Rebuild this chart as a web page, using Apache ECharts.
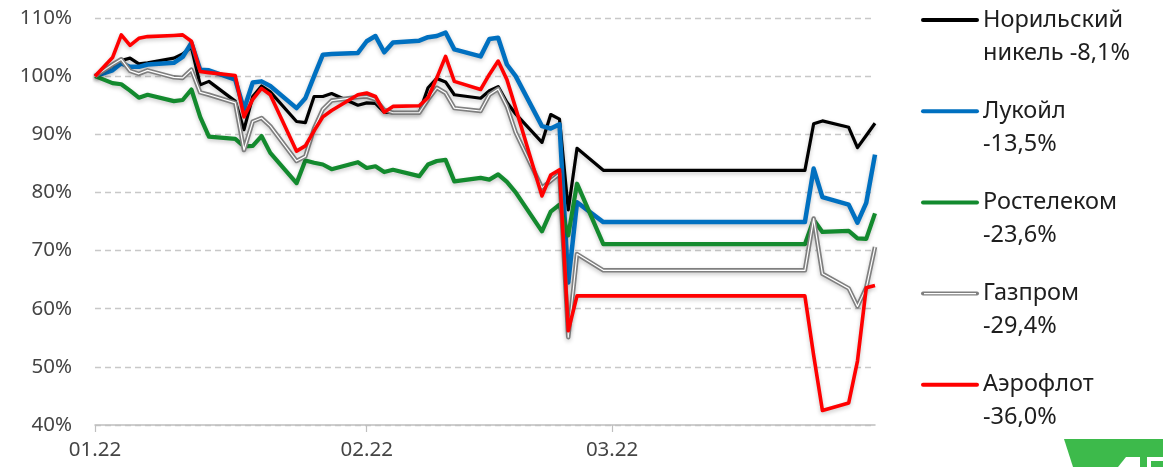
<!DOCTYPE html>
<html>
<head>
<meta charset="utf-8">
<script src="https://cdn.jsdelivr.net/npm/echarts@6/dist/echarts.min.js"></script>
<style>
    html, body { margin: 0; padding: 0; background: #fff; }
    #chart { width: 1163px; height: 467px; }
</style>
</head>
<body>
<div id="chart"></div>
<script>
// торговые дни (01.01 — база 100%)
const dates = ['2022-01-01', '2022-01-03', '2022-01-04', '2022-01-05', '2022-01-06', '2022-01-07',
    '2022-01-10', '2022-01-11', '2022-01-12', '2022-01-13', '2022-01-14', '2022-01-17', '2022-01-18',
    '2022-01-19', '2022-01-20', '2022-01-21', '2022-01-24', '2022-01-25', '2022-01-26', '2022-01-27',
    '2022-01-28', '2022-01-31', '2022-02-01', '2022-02-02', '2022-02-03', '2022-02-04', '2022-02-07',
    '2022-02-08', '2022-02-09', '2022-02-10', '2022-02-11', '2022-02-14', '2022-02-15', '2022-02-16',
    '2022-02-17', '2022-02-18', '2022-02-21', '2022-02-22', '2022-02-23', '2022-02-24', '2022-02-25',
    '2022-02-28', '2022-03-23', '2022-03-24', '2022-03-25', '2022-03-28', '2022-03-29', '2022-03-30',
    '2022-03-31'];

const nornickel = [100, 101.8, 102.7, 103.1, 102.1, 102.3, 103.1, 103.8, 105.0, 98.5, 99.1, 95.7, 90.8,
    96.5, 98.3, 97.3, 92.2, 92.0, 96.5, 96.5, 97.0, 95.0,
    95.4, 95.3, 93.8, 93.7, 93.7, 98.0, 99.6, 99.0, 96.8, 96.2, 97.5, 98.2, 95.5, 93.5, 88.6, 93.4, 92.6,
    77.0, 87.6, 83.8,
    83.8, 91.8, 92.3, 91.2, 87.7, 89.8, 91.9];

const lukoil = [100, 101.0, 102.2, 101.6, 101.6, 102.0, 102.3, 103.3, 105.7, 101.1, 101.0, 99.4, 94.3,
    98.9, 99.1, 98.3, 94.5, 96.2, 100.0, 103.7, 103.8, 104.0,
    106.0, 106.9, 104.1, 105.8, 106.1, 106.7, 106.9, 107.5, 104.6, 103.4, 106.4, 106.6, 102.0, 100.0,
    91.4, 91.0, 91.7, 64.5, 78.3, 74.9,
    74.9, 84.1, 79.2, 77.9, 74.8, 78.2, 86.5];

const rostelecom = [100, 98.8, 98.6, 97.5, 96.3, 96.8, 95.7, 95.9, 97.7, 93.0, 89.6, 89.2, 87.9,
    88.0, 89.7, 86.8, 81.6, 85.5, 85.1, 84.8, 84.0, 85.2,
    84.2, 84.5, 83.5, 83.9, 82.8, 84.8, 85.4, 85.6, 81.9, 82.5, 82.2, 83.1, 81.8, 80.0, 73.3, 76.7, 77.9,
    72.6, 81.5, 71.1,
    71.1, 75.3, 73.2, 73.4, 72.1, 72.0, 76.4];

const gazprom = [100, 102.0, 102.9, 100.9, 100.4, 101.0, 99.8, 99.7, 101.1, 97.2, 96.8, 95.4, 87.3,
    92.2, 92.8, 91.4, 85.4, 86.2, 91.0, 94.3, 95.8, 96.4,
    96.5, 96.0, 94.2, 93.7, 93.7, 96.0, 98.0, 97.1, 94.5, 94.0, 96.8, 97.8, 94.8, 90.3, 80.8, 82.0, 83.2,
    55.1, 69.4, 66.6,
    66.6, 75.5, 66.0, 63.5, 60.4, 63.6, 70.6];

const aeroflot = [100, 103.2, 107.1, 105.3, 106.5, 106.8, 107.0, 107.1, 106.0, 100.8, 100.6, 100.1, 93.0,
    96.0, 97.9, 96.8, 87.1, 88.0, 90.6, 93.0, 94.1, 96.8,
    97.1, 96.5, 93.8, 94.8, 94.9, 96.3, 99.7, 103.4, 99.1, 97.7, 100.3, 102.6, 99.4, 94.5, 79.4, 83.0, 83.9,
    56.2, 62.2, 62.2,
    62.2, 52.0, 42.5, 43.8, 51.0, 63.6, 64.0];

const seriesNames = ['Норильский никель', 'Лукойл', 'Ростелеком', 'Газпром', 'Аэрофлот'];
const legendLines = [
    ['Норильский', 'никель -8,1%'],
    ['Лукойл', '-13,5%'],
    ['Ростелеком', '-23,6%'],
    ['Газпром', '-29,4%'],
    ['Аэрофлот', '-36,0%']
];
const monthTicks = ['2022-01-01', '2022-02-01', '2022-03-01'];
const monthLabels = ['01.22', '02.22', '03.22'];
const startDate = '2022-01-01';
const endDate = '2022-03-31';

document.addEventListener('DOMContentLoaded', function() {
    initChart();
});

// номер дня от 1 января
function dayNum(s) {
    const p = s.split('-');
    const t = Date.UTC(+p[0], +p[1] - 1, +p[2]);
    const p0 = startDate.split('-');
    return Math.round((t - Date.UTC(+p0[0], +p0[1] - 1, +p0[2])) / 86400000);
}

function initChart() {
    const el = document.getElementById('chart');
    const chart = echarts.init(el);

    const colors = ['#000000', '#0070c0', '#138a2e', '#7f7f7f', '#ff0000'];
    const widths = [3.2, 4.5, 4.2, 4.5, 3.6];
    const values = [nornickel, lukoil, rostelecom, gazprom, aeroflot];

    const pairs = v => dates.map((d, i) => [dayNum(d), v[i]]);

    const series = [];
    values.forEach((v, k) => {
        series.push({
            name: seriesNames[k],
            type: 'line',
            data: pairs(v),
            symbol: 'none',
            z: 2 + k,
            lineStyle: {
                color: colors[k],
                width: widths[k],
                join: 'round',
                shadowColor: 'rgba(0,0,0,0.22)',
                shadowBlur: 4,
                shadowOffsetY: 2
            },
            itemStyle: { color: colors[k] }
        });
        // белая полоса внутри линии Газпрома
        if (k === 3) {
            series.push({
                name: 'Газпром (внутр.)',
                type: 'line',
                data: pairs(v),
                symbol: 'none',
                z: 2 + k,
                lineStyle: { color: '#ffffff', width: 1.2, join: 'round' }
            });
        }
    });

    // легенда справа
    const graphic = [];
    legendLines.forEach((lines, k) => {
        const y = 20 + k * 91.2;
        graphic.push({
            type: 'line',
            shape: { x1: 923, y1: y, x2: 977, y2: y },
            style: { stroke: colors[k], lineWidth: 4, lineCap: 'round' }
        });
        if (k === 3) {
            graphic.push({
                type: 'line',
                shape: { x1: 924, y1: y, x2: 976, y2: y },
                style: { stroke: '#ffffff', lineWidth: 1.2 }
            });
        }
        lines.forEach((t, j) => {
            graphic.push({
                type: 'text',
                x: 983,
                y: y + j * 33,
                style: {
                    text: t,
                    font: '23.5px "Noto Sans"',
                    fill: '#1e1e1e',
                    verticalAlign: 'middle'
                }
            });
        });
    });
    // зелёный логотип в углу
    graphic.push({
        type: 'polygon',
        shape: { points: [[1064, 439], [1163, 439], [1163, 467], [1073, 467]] },
        style: { fill: '#3dba4b' }
    });
    graphic.push({
        type: 'polygon',
        shape: { points: [[1118, 467], [1126, 457], [1140, 457], [1140, 467]] },
        style: { fill: '#ffffff' }
    });
    graphic.push({
        type: 'polygon',
        shape: { points: [[1147, 457], [1163, 457], [1163, 461], [1151, 461], [1151, 467], [1147, 467]] },
        style: { fill: '#ffffff' }
    });

    const tickDays = monthTicks.map(dayNum);

    const option = {
        animation: false,
        backgroundColor: '#ffffff',
        grid: { left: 95, right: 288, top: 18, bottom: 42 },
        xAxis: {
            type: 'value',
            min: 0,
            max: dayNum(endDate),
            axisLine: { show: true, lineStyle: { color: '#bfbfbf', width: 1.5 } },
            axisTick: {
                show: true,
                customValues: tickDays,
                length: 7,
                lineStyle: { color: '#bfbfbf', width: 1.2 }
            },
            axisLabel: {
                customValues: tickDays,
                formatter: function(v) {
                    const i = tickDays.indexOf(Math.round(v));
                    return i >= 0 ? monthLabels[i] : '';
                },
                fontFamily: 'Noto Sans',
                fontSize: 20.5,
                color: '#454545',
                margin: 15
            },
            splitLine: { show: false }
        },
        yAxis: {
            type: 'value',
            min: 40,
            max: 110,
            interval: 10,
            axisLine: { show: false },
            axisTick: { show: false },
            axisLabel: {
                formatter: '{value}%',
                fontFamily: 'Noto Sans',
                fontSize: 20.5,
                color: '#454545',
                margin: 23
            },
            splitLine: { lineStyle: { color: '#c8c8c8', width: 1.4, type: [6, 4] } }
        },
        graphic: graphic,
        series: series
    };

    chart.setOption(option);

    window.addEventListener('resize', function() {
        chart.resize();
    });
}
</script>
</body>
</html>
